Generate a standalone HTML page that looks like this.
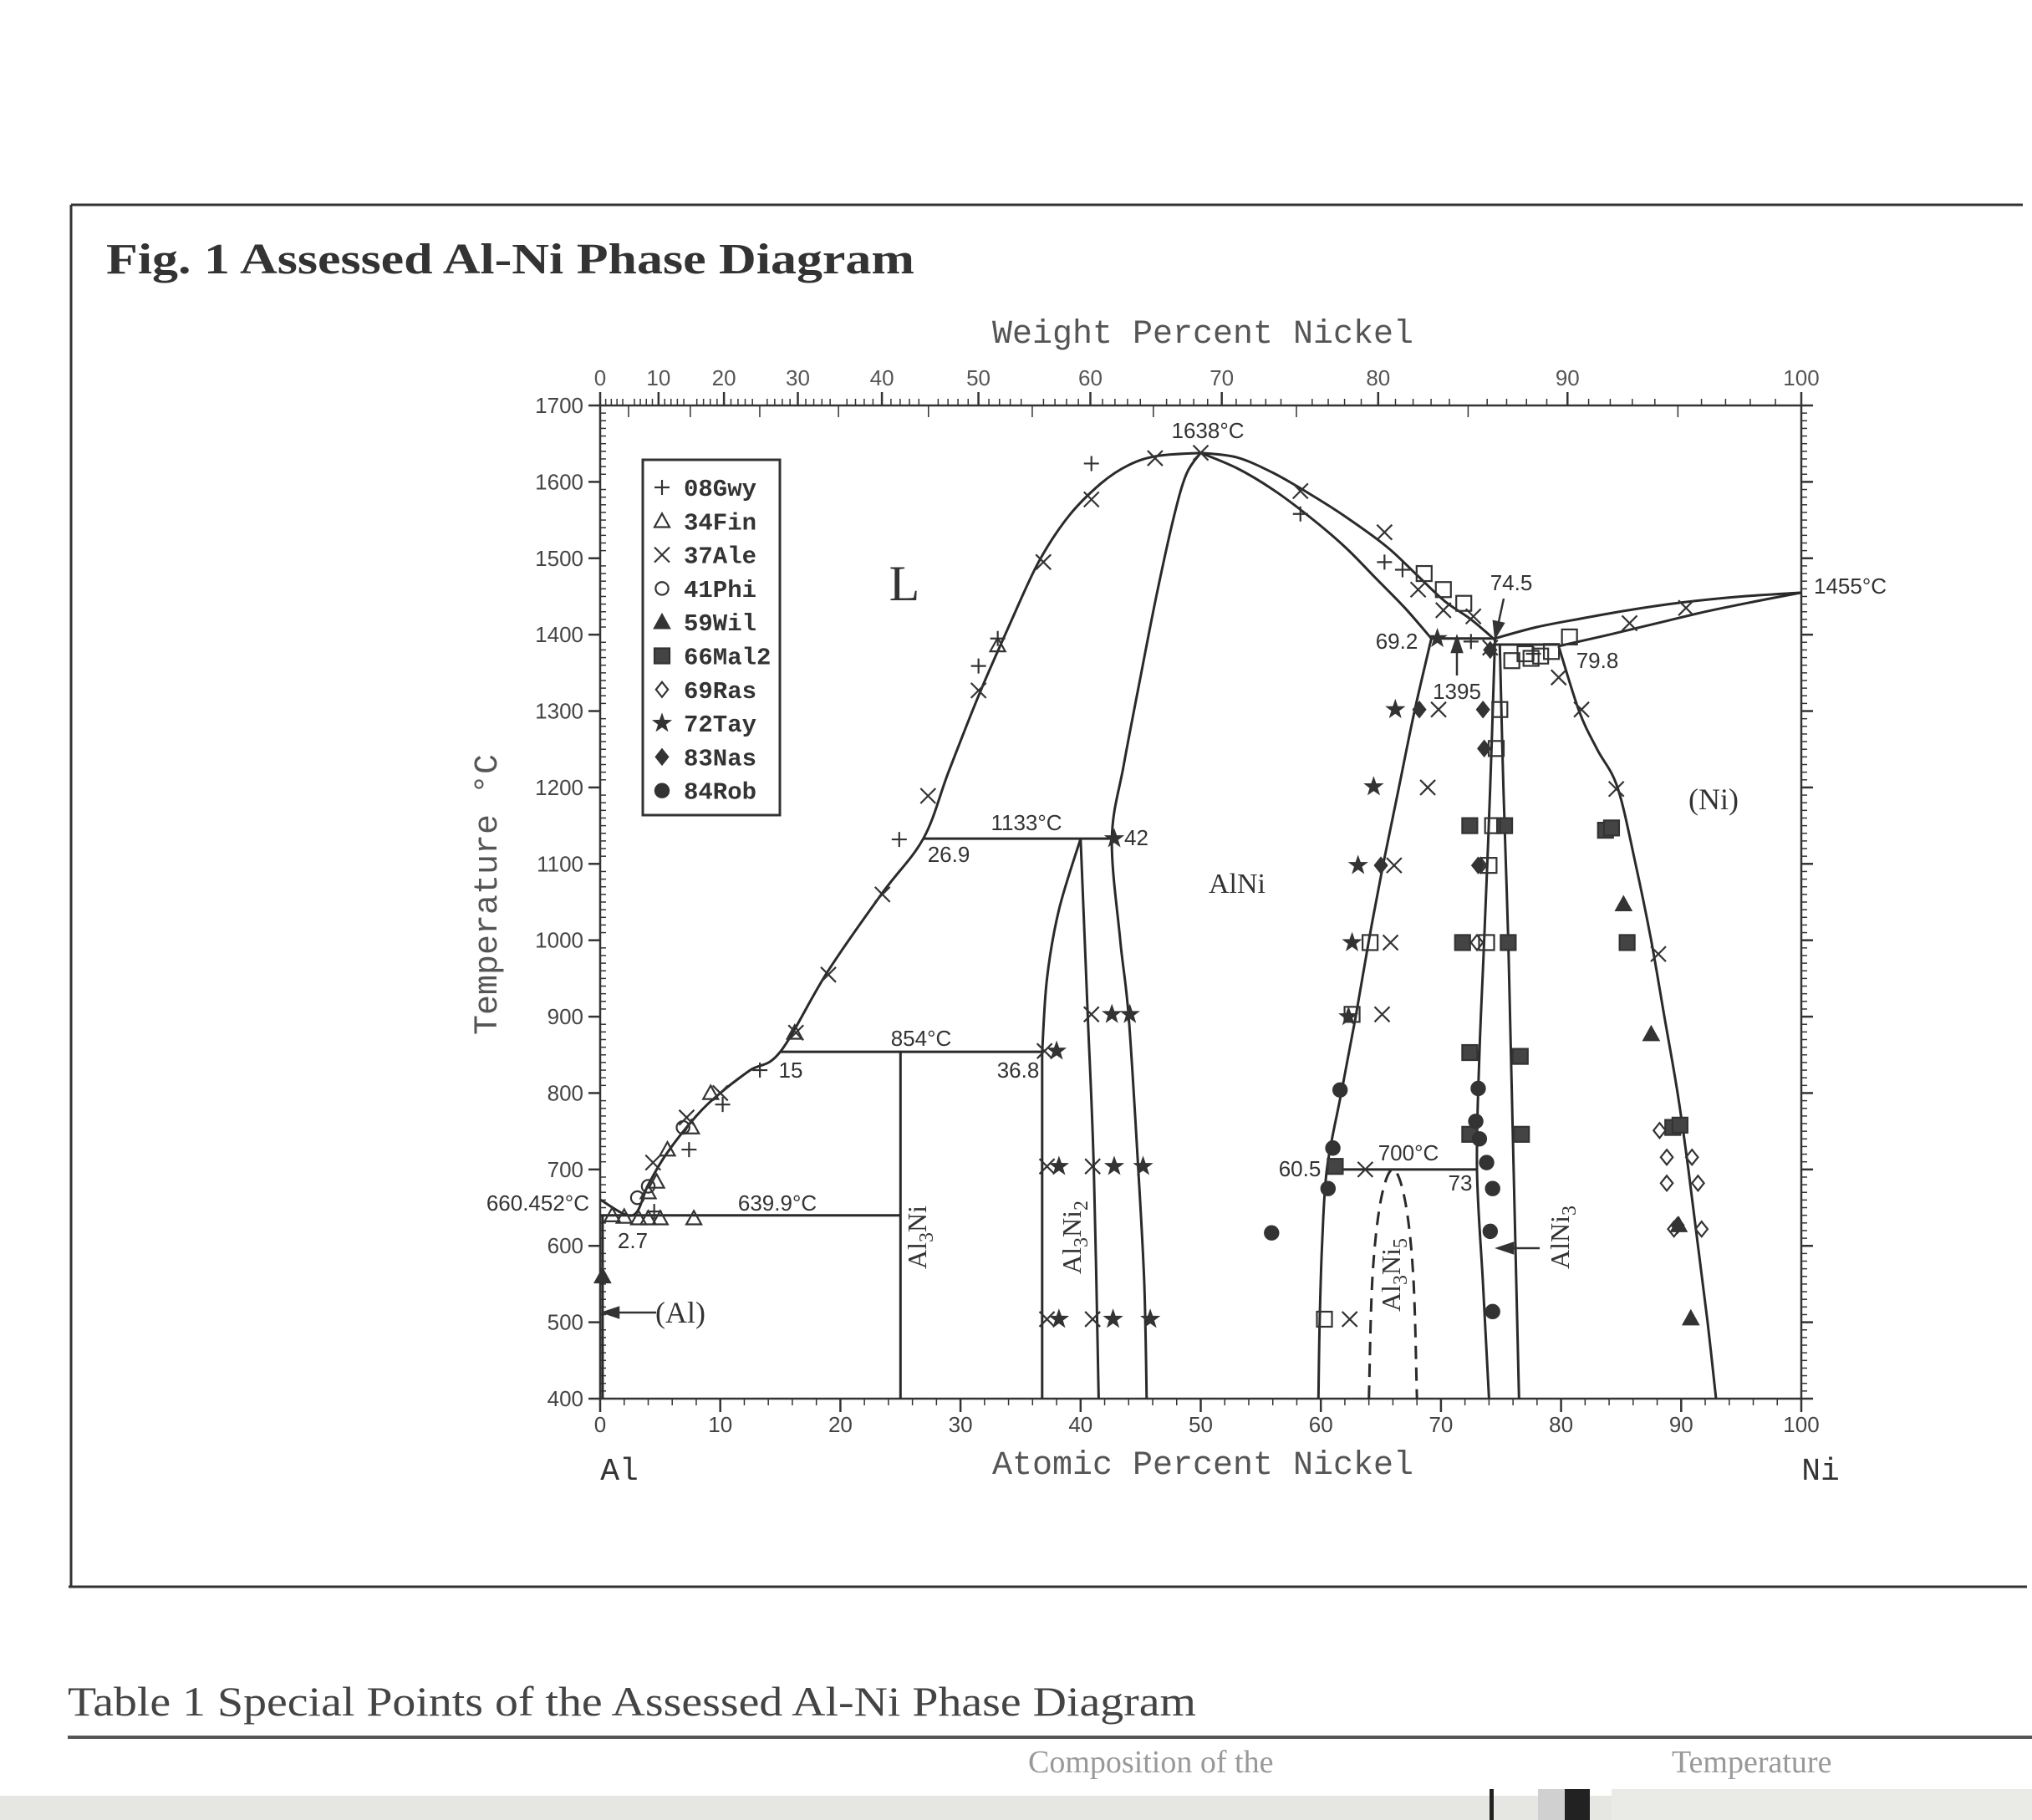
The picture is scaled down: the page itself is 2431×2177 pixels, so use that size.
<!DOCTYPE html>
<html><head><meta charset="utf-8">
<style>
html,body{margin:0;padding:0;background:#fff;}
body{width:2431px;height:2177px;position:relative;overflow:hidden;}
svg{position:absolute;left:0;top:0;}
.mono{font-family:"Liberation Mono",monospace;}
.sans{font-family:"Liberation Sans",sans-serif;}
.serif{font-family:"Liberation Serif",serif;}
</style></head>
<body>
<svg id="chart" width="2431" height="2177" viewBox="0 0 2431 2177">
  <g stroke="#333" stroke-width="3" fill="none">
    <line x1="85" y1="245" x2="2420" y2="245"/>
    <line x1="85" y1="245" x2="85" y2="1898"/>
    <line x1="82" y1="1898" x2="2425" y2="1898"/>
  </g>
  <text x="127" y="327" class="serif" font-size="52" font-weight="bold" fill="#333" textLength="967" lengthAdjust="spacingAndGlyphs">Fig. 1   Assessed Al-Ni Phase Diagram</text>
  <g id="plot"></g>
  <text x="81" y="2052" class="serif" font-size="50" fill="#444" textLength="1350" lengthAdjust="spacingAndGlyphs">Table 1   Special Points of the Assessed Al-Ni Phase Diagram</text>
  <line x1="81" y1="2078" x2="2431" y2="2078" stroke="#555" stroke-width="4"/>
  <text x="1230" y="2120" class="serif" font-size="38" fill="#999">Composition of the</text>
  <text x="2000" y="2120" class="serif" font-size="38" fill="#999">Temperature</text>
  <rect x="0" y="2148" width="2431" height="29" fill="#e6e6e2"/>
  <rect x="1782" y="2140" width="5" height="37" fill="#222"/>
  <rect x="1840" y="2140" width="60" height="37" fill="#d0d0d0"/>
  <rect x="1872" y="2140" width="30" height="37" fill="#222"/>
  <rect x="1928" y="2140" width="503" height="37" fill="#eaeae6"/>
</svg>
<script>
// ---- data ----
const tempTicks = [400,500,600,700,800,900,1000,1100,1200,1300,1400,1500,1600,1700];
const atTicks = [0,10,20,30,40,50,60,70,80,90,100];
const wtTicks = [0,10,20,30,40,50,60,70,80,90,100];
const liquidusLeft = [[0,660.452],[2.7,639.9],[4,680],[5.5,720],[8,770],[10,800],[12.5,830],[15,854],[18.9,958],[23.4,1060],[26.9,1133],[29,1220],[31.5,1320],[34,1410],[36.5,1495],[39,1555],[41.7,1598],[44,1622],[46.4,1634],[50,1638]];
const liquidusRight = [[50,1638],[53,1632],[56,1612],[59,1585],[62,1555],[65.5,1515],[68,1478],[70.3,1444],[72.5,1420],[74.5,1393]];
const solidusRight = [[50,1638],[53,1618],[56,1590],[59,1555],[62,1515],[64.5,1475],[67,1435],[69.2,1395]];
const alniLeft = [[50,1638],[48.8,1610],[47.7,1550],[46.3,1450],[45,1346],[43.6,1230],[42.6,1133],[43.3,1000],[44,900],[44.8,700],[45.3,550],[45.5,400]];
const al3ni2Left = [[36.8,854],[37.2,950],[38.2,1040],[40,1133]];
const al3ni2Right = [[40,1133],[40.6,900],[41.1,700],[41.5,400]];
const alniRight = [[69.2,1395],[67.8,1300],[66.5,1200],[65.2,1100],[64,1000],[62.9,900],[61.7,800],[60.5,700],[60.1,600],[59.9,500],[59.8,400]];
const al3ni5Dome = [[64,400],[64.3,560],[65,660],[66,700],[67,660],[67.7,560],[68,400]];
const alni3Left = [[74.5,1395],[74.1,1200],[73.6,1000],[73.2,850],[73,700],[73.5,550],[74,400]];
const alni3Right = [[74.9,1387],[75.2,1200],[75.6,1000],[75.9,800],[76.2,600],[76.5,400]];
const niLiquidus = [[74.5,1395],[78,1410],[82,1422],[86,1433],[90,1442],[95,1450],[100,1455]];
const niSolidus = [[79.8,1385],[84,1400],[88,1415],[92,1430],[96,1443],[100,1455]];
const niSolvus = [[79.8,1385],[81.5,1300],[83,1250],[84.7,1200],[86.2,1100],[87.5,1000],[88.6,900],[89.7,800],[90.6,700],[91.4,600],[92.2,500],[92.9,400]];
const isotherms = [[0,25,639.9],[15,36.8,854],[26.9,42.6,1133],[60.5,73,700],[69.2,74.5,1395],[74.5,79.8,1387]];
const al3niLine = [[25,854],[25,400]];
const alSolvus = [[0.2,639.9],[0.2,400]];
const al3ni2Vert = [[36.8,854],[36.8,400]];
const legendNames = ["08Gwy","34Fin","37Ale","41Phi","59Wil","66Mal2","69Ras","72Tay","83Nas","84Rob"];
const legendSyms = ["plus","tri","x","circ","ftri","fsq","dia","star","fdia","fcirc"];
const gwyPts = [[40.9,1624],[31.5,1359],[33.1,1395],[24.9,1132],[58.3,1558],[65.3,1495],[66.8,1485],[7.4,726],[10.2,785],[72.5,1391],[77.7,1375],[4.5,645],[13.3,830]];
const finPts = [[7.8,636],[3.2,636],[4,636],[5,636],[9.2,800],[7.6,755],[5.6,726],[4.7,684],[4,670],[16.2,879],[33.1,1386],[1,640],[2,638]];
const alePts = [[46.2,1631],[40.9,1577],[36.9,1495],[31.5,1327],[27.3,1189],[23.5,1060],[19,955],[16.3,879],[58.3,1588],[65.3,1534],[68.1,1459],[70.2,1432],[72.7,1424],[69.8,1302],[68.9,1200],[66.1,1098],[65.8,997],[65.1,903],[63.7,700],[62.4,504],[79.8,1344],[81.7,1302],[84.6,1198],[85.7,1415],[90.4,1435],[88.1,982],[74.1,1383],[37.2,704],[41,704],[37.2,504],[41,504],[40.9,903],[37,855],[4.4,709],[7.2,768],[10,800],[50,1638]];
const phiPts = [[6.9,755],[4,678],[3.1,663]];
const wilPts = [[85.2,1047],[87.5,877],[89.8,627],[90.8,505],[0.2,560]];
const malPts = [[72.4,1150],[75.3,1150],[71.8,997],[75.6,997],[72.4,853],[76.6,848],[72.4,746],[76.7,746],[83.7,1144],[84.2,1147],[85.5,997],[89.3,755],[89.9,758],[61.2,704]];
const rasPts = [[88.2,751],[88.8,716],[90.9,716],[88.8,682],[91.4,682],[89.4,622],[91.7,622],[73,997],[73.3,1098]];
const tayPts = [[44.1,903],[42.6,903],[38.2,704],[42.8,704],[45.2,704],[38.2,504],[42.7,504],[45.8,504],[66.2,1302],[64.4,1201],[63.1,1098],[62.6,997],[69.7,1395],[42.8,1133],[38,855],[62.3,900]];
const nasPts = [[73.6,1251],[68.2,1302],[73.5,1302],[65,1098],[73.1,1098],[74.1,1380],[89.7,627]];
const robPts = [[61.6,804],[61,728],[60.6,675],[73.1,806],[72.9,763],[73.8,709],[74.3,675],[74.1,619],[74.3,514],[55.9,617],[73.2,740]];
const sqPts = [[68.6,1480],[70.2,1459],[71.9,1441],[74.9,1302],[74.6,1251],[74,1098],[73.8,997],[64.1,997],[62.6,903],[75.9,1366],[77.5,1369],[79.2,1378],[80.7,1397],[60.3,504],[77,1375],[78.3,1372],[74.3,1150]];

// ---- axes ----
const X0=718, X1=2155, Y0=1673, Y1=485;
function X(a){return X0+(X1-X0)*a/100;}
function Y(t){return Y0-(Y0-Y1)*(t-400)/1300;}
function wt2at(w){ if(w<=0) return 0; if(w>=100) return 100; const n=w/58.69, a=(100-w)/26.98; return 100*n/(n+a);}
const NS="http://www.w3.org/2000/svg";
const plot=document.getElementById('plot');
function mk(tag,attrs,parent){const e=document.createElementNS(NS,tag);for(const k in attrs)e.setAttribute(k,attrs[k]);(parent||plot).appendChild(e);return e;}
function txt(x,y,s,size,cls,anchor,parent){const t=mk('text',{x:x,y:y,'font-size':size,'class':cls,'text-anchor':anchor||'start',fill:'#333'},parent);t.textContent=s;return t;}
function pathD(pts){
  const P=pts.map(p=>[X(p[0]),Y(p[1])]);
  let d='M'+P[0][0].toFixed(1)+','+P[0][1].toFixed(1);
  for(let i=0;i<P.length-1;i++){
    const p0=P[Math.max(0,i-1)],p1=P[i],p2=P[i+1],p3=P[Math.min(P.length-1,i+2)];
    const c1=[p1[0]+(p2[0]-p0[0])/6,p1[1]+(p2[1]-p0[1])/6];
    const c2=[p2[0]-(p3[0]-p1[0])/6,p2[1]-(p3[1]-p1[1])/6];
    d+=' C'+c1[0].toFixed(1)+','+c1[1].toFixed(1)+' '+c2[0].toFixed(1)+','+c2[1].toFixed(1)+' '+p2[0].toFixed(1)+','+p2[1].toFixed(1);
  }
  return d;
}
function curve(pts,name,dash){
  const p=mk('path',{d:pathD(pts),fill:'none',stroke:'#2a2a2a','stroke-width':3});
  if(dash) p.setAttribute('stroke-dasharray','16,10');
  
  
}

// axes frame
const ax=mk('g',{stroke:'#333','stroke-width':2.5,fill:'none'});


mk('rect',{x:X0,y:Y1,width:X1-X0,height:Y0-Y1},ax);
for(let t=400;t<=1700;t+=10){
  const maj=t%100===0;
  mk('line',{x1:X0-(maj?14:0),y1:Y(t),x2:X0+(maj?0:7),y2:Y(t),'stroke-width':maj?2.5:1.5},ax);
  mk('line',{x1:X1,y1:Y(t),x2:X1+(maj?14:7),y2:Y(t),'stroke-width':maj?2.5:1.5},ax);
}
for(let a=0;a<=100;a+=2){
  const maj=a%10===0;
  mk('line',{x1:X(a),y1:Y0,x2:X(a),y2:Y0+(maj?16:8),'stroke-width':maj?2.5:1.5},ax);
}
for(let w=0;w<=100;w+=1){
  const maj=w%10===0, mid=w%5===0;
  mk('line',{x1:X(wt2at(w)),y1:Y1,x2:X(wt2at(w)),y2:Y1+(maj?-16:(mid?14:-8)),'stroke-width':maj?2.5:1.5},ax);
}
const tl=mk('g',{});


tempTicks.forEach(t=>{const e=txt(X0-20,Y(t)+9,String(t),26,'sans','end',tl);e.setAttribute('fill','#444');});
atTicks.forEach(a=>{const e=txt(X(a),Y0+40,String(a),26,'sans','middle',tl);e.setAttribute('fill','#444');});
wtTicks.forEach(w=>{const e=txt(X(wt2at(w)),Y1-24,String(w),26,'sans','middle',tl);e.setAttribute('fill','#555');});

let e;
e=txt(1439,410,'Weight Percent Nickel',40,'mono','middle');
e.setAttribute('fill','#555');


e=txt(1439,1763,'Atomic Percent Nickel',40,'mono','middle');
e.setAttribute('fill','#555');


e=txt(0,0,'Temperature °C',40,'mono','middle');
e.setAttribute('fill','#555');
e.setAttribute('transform','translate(594,1070) rotate(-90)');


e=txt(741,1770,'Al',38,'mono','middle');


e=txt(2178,1770,'Ni',38,'mono','middle');



// curves
curve(liquidusLeft,'liquidus-al-side');
curve(liquidusRight,'liquidus-ni-side');
curve(solidusRight,'alni-solidus');
curve(alniLeft,'alni-left-boundary');
curve(al3ni2Left,'al3ni2-left-boundary');
curve(al3ni2Right,'al3ni2-right-boundary');
curve(alniRight,'alni-right-boundary');
curve(al3ni5Dome,'al3ni5-dome',true);
curve(alni3Left,'alni3-left-boundary');
curve(alni3Right,'alni3-right-boundary');
curve(niLiquidus,'ni-liquidus');
curve(niSolidus,'ni-solidus');
curve(niSolvus,'ni-solvus');
curve(al3niLine,'al3ni-line');
curve(alSolvus,'al-solvus');
curve(al3ni2Vert,'al3ni2-vertical');
isotherms.forEach(s=>{
  const l=mk('line',{x1:X(s[0]),y1:Y(s[2]),x2:X(s[1]),y2:Y(s[2]),stroke:'#2a2a2a','stroke-width':3});
  
  
});

// markers
function sym(kind,cx,cy,parent){
  const g=mk('g',{stroke:'#333','stroke-width':2.2,fill:'none'},parent);
  const r=9;
  if(kind==='plus'){mk('path',{d:`M${cx-r},${cy}H${cx+r}M${cx},${cy-r}V${cy+r}`},g);}
  else if(kind==='x'){mk('path',{d:`M${cx-r},${cy-r}L${cx+r},${cy+r}M${cx-r},${cy+r}L${cx+r},${cy-r}`},g);}
  else if(kind==='tri'){mk('path',{d:`M${cx},${cy-r}L${cx+r},${cy+r*0.8}L${cx-r},${cy+r*0.8}Z`},g);}
  else if(kind==='ftri'){mk('path',{d:`M${cx},${cy-r}L${cx+r},${cy+r*0.8}L${cx-r},${cy+r*0.8}Z`,fill:'#333'},g);}
  else if(kind==='circ'){mk('circle',{cx:cx,cy:cy,r:r*0.85},g);}
  else if(kind==='fcirc'){mk('circle',{cx:cx,cy:cy,r:r*0.9,fill:'#333'},g);}
  else if(kind==='fsq'){mk('rect',{x:cx-r,y:cy-r,width:2*r,height:2*r,fill:'#444'},g);}
  else if(kind==='sq'){mk('rect',{x:cx-r,y:cy-r,width:2*r,height:2*r},g);}
  else if(kind==='dia'){mk('path',{d:`M${cx},${cy-r}L${cx+r*0.8},${cy}L${cx},${cy+r}L${cx-r*0.8},${cy}Z`},g);}
  else if(kind==='fdia'){mk('path',{d:`M${cx},${cy-r}L${cx+r*0.8},${cy}L${cx},${cy+r}L${cx-r*0.8},${cy}Z`,fill:'#333'},g);}
  else if(kind==='star'){let d='';for(let i=0;i<10;i++){const rr=i%2?r*0.42:r*1.05;const an=-Math.PI/2+i*Math.PI/5;d+=(i?'L':'M')+(cx+rr*Math.cos(an)).toFixed(1)+','+(cy+rr*Math.sin(an)).toFixed(1);}mk('path',{d:d+'Z',fill:'#333'},g);}
  return g;
}
function series(pts,kind,name){
  const g=mk('g',{});
  
  
  pts.forEach(p=>sym(kind,X(p[0]),Y(p[1]),g));
}
series(gwyPts,'plus','series-08gwy');
series(finPts,'tri','series-34fin');
series(alePts,'x','series-37ale');
series(phiPts,'circ','series-41phi');
series(wilPts,'ftri','series-59wil');
series(malPts,'fsq','series-66mal2');
series(rasPts,'dia','series-69ras');
series(tayPts,'star','series-72tay');
series(nasPts,'fdia','series-83nas');
series(robPts,'fcirc','series-84rob');
series(sqPts,'sq','series-open-squares');

// legend
const lg=mk('g',{});


mk('rect',{x:769,y:550,width:164,height:425,fill:'#fff',stroke:'#333','stroke-width':3},lg);
legendNames.forEach((n,i)=>{
  const y=583+i*40.3;
  const g=mk('g',{},lg);
  
  
  sym(legendSyms[i],792,y,g);
  const t=txt(818,y+10,n,29,'mono','start',g);
  t.setAttribute('font-weight','bold');
});

// annotations
function label(x,y,s,size,cls,name,anchor){const t=txt(x,y,s,size,cls,anchor);return t;}
label(1445,524,'1638°C',26,'sans','label-1638','middle');
label(1228,993,'1133°C',26,'sans','label-1133','middle');
label(1135,1031,'26.9',26,'sans','label-26-9','middle');
label(1345,1011,'42',26,'sans','label-42','start');
label(1102,1251,'854°C',26,'sans','label-854','middle');
label(946,1289,'15',26,'sans','label-15','middle');
label(1218,1289,'36.8',26,'sans','label-36-8','middle');
label(705,1448,'660.452°C',26,'sans','label-660','end');
label(757,1493,'2.7',26,'sans','label-2-7','middle');
label(930,1448,'639.9°C',26,'sans','label-639','middle');
label(1685,1388,'700°C',26,'sans','label-700','middle');
label(1555,1407,'60.5',26,'sans','label-60-5','middle');
label(1747,1424,'73',26,'sans','label-73','middle');
label(1671,776,'69.2',26,'sans','label-69-2','middle');
label(1911,799,'79.8',26,'sans','label-79-8','middle');
label(1808,706,'74.5',26,'sans','label-74-5','middle');
label(1743,836,'1395',26,'sans','label-1395','middle');
label(2170,710,'1455°C',26,'sans','label-1455','start');
label(1082,718,'L',60,'serif','phase-l','middle');
label(1480,1068,'AlNi',34,'serif','phase-alni','middle');
label(2050,968,'(Ni)',36,'serif','phase-ni','middle');
label(814,1582,'(Al)',36,'serif','phase-al','middle');
[['Al3Ni',1108,1480],['Al3Ni2',1293,1480],['Al3Ni5',1675,1525],['AlNi3',1877,1480]].forEach(v=>{
  const t=txt(0,0,'',32,'serif','middle');
  t.setAttribute('transform',`translate(${v[1]},${v[2]}) rotate(-90)`);
  
  
  const m=v[0].match(/^(Al)(\d?)(Ni)(\d?)$/);
  const a=mk('tspan',{},t);a.textContent=m[1];
  if(m[2]){const s=mk('tspan',{'font-size':24,dy:8},t);s.textContent=m[2];}
  const b=mk('tspan',{dy:m[2]?-8:0},t);b.textContent=m[3];
  if(m[4]){const s=mk('tspan',{'font-size':24,dy:8},t);s.textContent=m[4];}
});
// arrows
function arrow(x1,y1,x2,y2,name){
  const g=mk('g',{stroke:'#333','stroke-width':2.5,fill:'#333'});
  
  
  mk('line',{x1:x1,y1:y1,x2:x2,y2:y2},g);
  const an=Math.atan2(y2-y1,x2-x1),L=18,W=6;
  const bx=x2-L*Math.cos(an),by=y2-L*Math.sin(an);
  mk('path',{d:`M${x2},${y2}L${bx+W*Math.sin(an)},${by-W*Math.cos(an)}L${bx-W*Math.sin(an)},${by+W*Math.cos(an)}Z`},g);
}
arrow(785,1570,722,1570,'arrow-al');
arrow(1799,716,1789,762,'arrow-74-5');
arrow(1743,808,1743,762,'arrow-1395');
arrow(1842,1493,1792,1493,'arrow-alni3');
</script>
</body></html>
